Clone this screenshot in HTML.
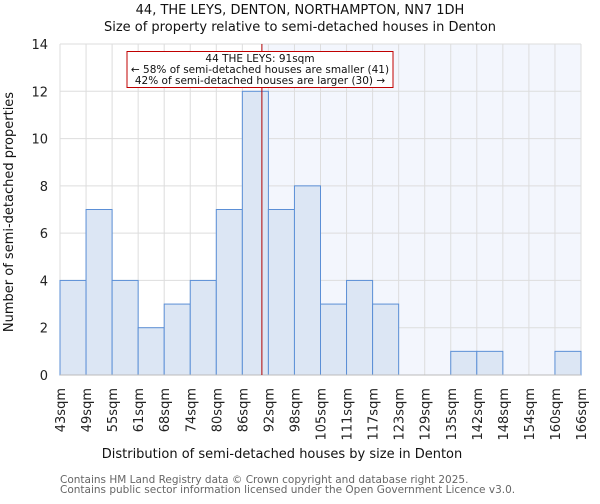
<!DOCTYPE html>
<html><head><meta charset="utf-8"><style>
body{margin:0;background:#fff;font-family:"DejaVu Sans","Liberation Sans",sans-serif}
svg text{font-family:"DejaVu Sans","Liberation Sans",sans-serif}
</style></head><body>
<svg id="c" width="600" height="500" xmlns="http://www.w3.org/2000/svg"></svg>
<script>
const edgeLabels=["43sqm","49sqm","55sqm","61sqm","68sqm","74sqm","80sqm","86sqm","92sqm","98sqm","105sqm","111sqm","117sqm","123sqm","129sqm","135sqm","142sqm","148sqm","154sqm","160sqm","166sqm"];
const counts=[4,7,4,2,3,4,7,12,7,8,3,4,3,0,0,1,1,0,0,1];
const yTicks=[0,2,4,6,8,10,12,14];
const markerBin=7.75;
const NS="http://www.w3.org/2000/svg";
const svg=document.getElementById('c');
const L=60,R=581,T=44,B=375,yMax=14;
const bw=(R-L)/counts.length;
const xs=i=>L+i*bw;
const ys=v=>B-v/yMax*(B-T);
function mk(t,a,p){const e=document.createElementNS(NS,t);for(const k in a)e.setAttribute(k,a[k]);(p||svg).appendChild(e);return e;}
function txt(s,a){const e=mk('text',a);e.textContent=s;return e;}
const mx=xs(markerBin);
const shade=mk('rect',{x:mx,y:T,width:R-mx,height:B-T,fill:'#f3f6fd'});


for(const v of yTicks){const g=mk('line',{x1:L,x2:R,y1:ys(v),y2:ys(v),stroke:'#dddddd','stroke-width':1});


const t=txt(String(v),{x:L-12,y:ys(v)+5,'text-anchor':'end','font-size':13,fill:'#222'});

}
edgeLabels.forEach((s,i)=>{const g=mk('line',{x1:xs(i),x2:xs(i),y1:T,y2:B,stroke:'#dddddd','stroke-width':1});


const x=xs(i)+5,y=388;
const t=txt(s,{x:x,y:y,transform:`rotate(-90 ${x} ${y})`,'text-anchor':'end','font-size':13,fill:'#222'});

});
counts.forEach((v,i)=>{if(v<=0)return;const r=mk('rect',{x:xs(i),y:ys(v),width:bw,height:B-ys(v),fill:'#dce6f4',stroke:'#5b8fd6','stroke-width':1});

});
const ax=mk('line',{x1:L,x2:R,y1:B,y2:B,stroke:'#bbb','stroke-width':1});


const ml=mk('line',{x1:mx,x2:mx,y1:T,y2:B,stroke:'#b00000','stroke-width':1});


const box=mk('rect',{x:127,y:51.5,width:266,height:36,fill:'#fff',stroke:'#c00000','stroke-width':1});


[["44 THE LEYS: 91sqm",62],["← 58% of semi-detached houses are smaller (41)",73],["42% of semi-detached houses are larger (30) →",84]].forEach(([s,y])=>{const t=txt(s,{x:260,y:y,'text-anchor':'middle','font-size':10.5,fill:'#111'});

});
let t=txt("44, THE LEYS, DENTON, NORTHAMPTON, NN7 1DH",{x:300,y:14,'text-anchor':'middle','font-size':13,fill:'#111'});


t=txt("Size of property relative to semi-detached houses in Denton",{x:300,y:31,'text-anchor':'middle','font-size':13,fill:'#111'});


t=txt("Distribution of semi-detached houses by size in Denton",{x:282,y:458,'text-anchor':'middle','font-size':13,fill:'#111'});


t=txt("Number of semi-detached properties",{x:13,y:212,transform:'rotate(-90 13 212)','text-anchor':'middle','font-size':13,fill:'#111'});


t=txt("Contains HM Land Registry data © Crown copyright and database right 2025.",{x:60,y:483,'font-size':10.5,fill:'#666'});


t=txt("Contains public sector information licensed under the Open Government Licence v3.0.",{x:60,y:493,'font-size':10.5,fill:'#666'});


</script>
</body></html>
